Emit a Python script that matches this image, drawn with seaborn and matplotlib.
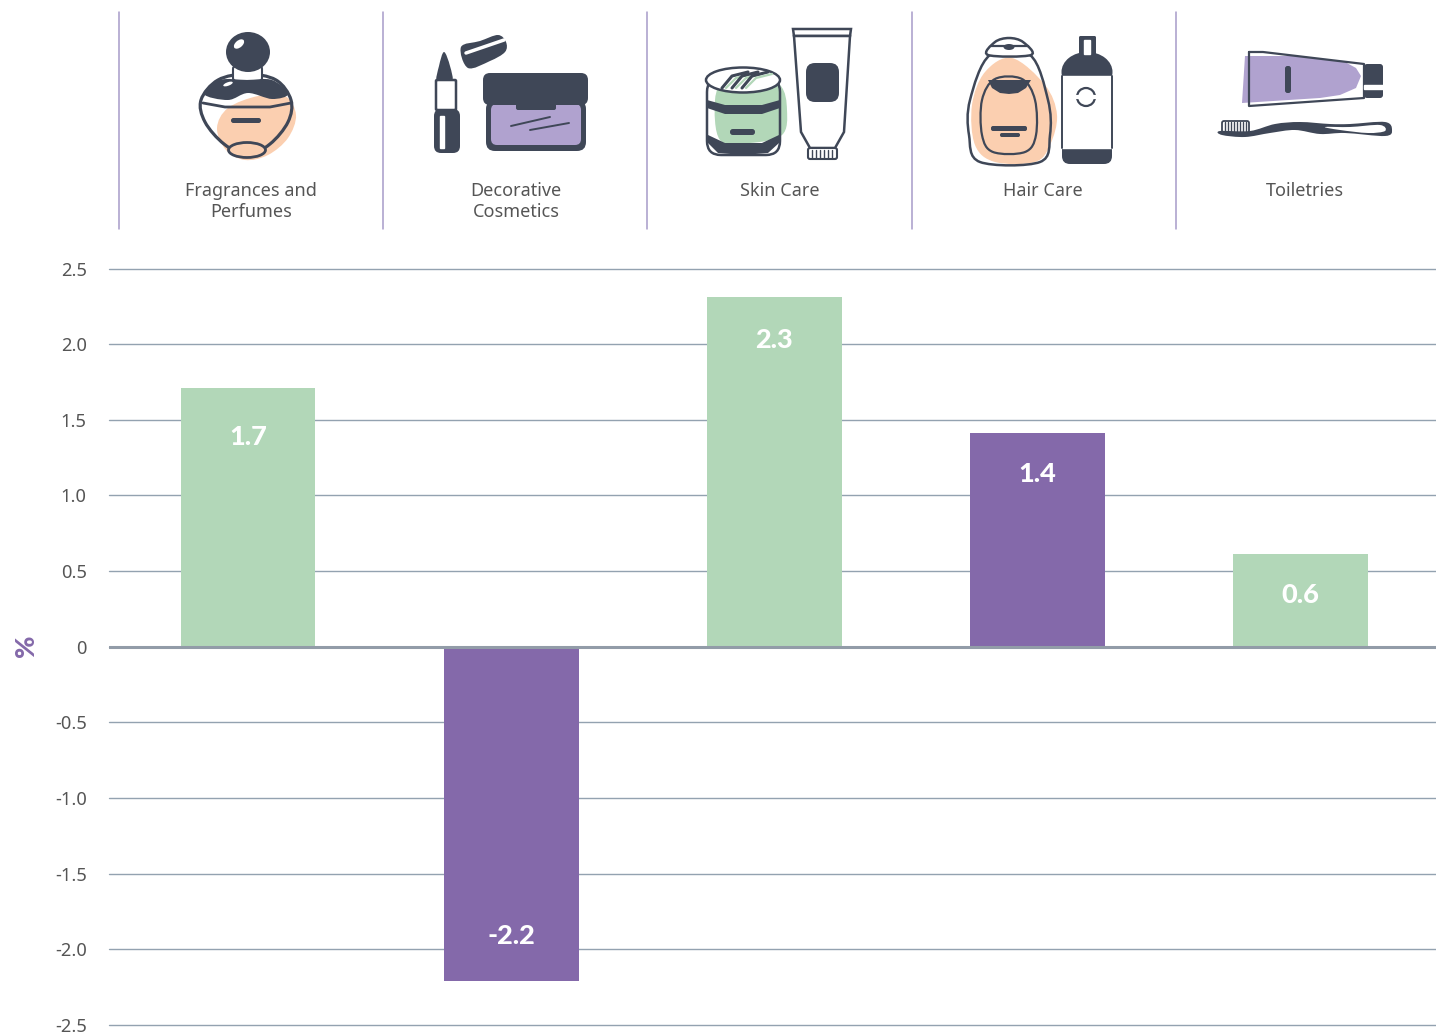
import matplotlib
matplotlib.use("Agg")
import matplotlib.pyplot as plt
import pandas as pd
import seaborn as sns
from matplotlib.patches import Ellipse, FancyBboxPatch, PathPatch, Polygon, Rectangle
from matplotlib.path import Path

# chart values
categories = ["Fragrances and\nPerfumes", "Decorative\nCosmetics", "Skin Care", "Hair Care", "Toiletries"]
values = [1.71, -2.21, 2.31, 1.41, 0.61]
groups = ["a", "b", "c", "d", "e"]
yticks = [-2.5, -2.0, -1.5, -1.0, -0.5, 0, 0.5, 1.0, 1.5, 2.0, 2.5]
ytick_labels = ["-2.5", "-2.0", "-1.5", "-1.0", "-0.5", "0", "0.5", "1.0", "1.5", "2.0", "2.5"]

GREEN = "#B2D7B8"
PURPLE = "#8469AA"
DARK = "#3F4757"
PEACH = "#FBCFB0"
LILAC = "#B0A2CF"
TEXT = "#555555"
WHITE = "white"

sns.set_theme(style="white")
plt.rcParams["font.family"] = ["Noto Sans", "DejaVu Sans"]

W, H = 1436, 1034
fig = plt.figure(figsize=(W / 100, H / 100), dpi=100)
ax = fig.add_axes([109 / W, 1 - 1025 / H, (W - 109) / W, (1025 - 268.5) / H])

df = pd.DataFrame({"category": categories, "value": values, "group": groups})
sns.barplot(data=df, x="category", y="value", hue="group",
            palette=[GREEN, PURPLE, GREEN, PURPLE, GREEN],
            width=0.512, saturation=1, legend=False, linewidth=0, ax=ax)

ax.set_xlim(-0.529, 4.516)
ax.set_ylim(-2.5, 2.5)
ax.set_yticks(yticks)
ax.set_yticklabels(ytick_labels, color=TEXT, fontsize=13.2)
ax.set_xticks([])
ax.set_xlabel("")
ax.set_ylabel("")
ax.tick_params(axis="y", length=0, pad=16)
ax.set_axisbelow(True)
ax.grid(axis="y", color="#93A2B0", lw=1)
for g in ax.get_ygridlines():
    g.set_clip_on(False)
ax.axhline(0, color="#929CA8", lw=2.2, zorder=5)
sns.despine(ax=ax, left=True, bottom=True, top=True, right=True)

# labels sit inside the bars
label_offsets = [-49, 45, -43, -41, -41]
for i, (v, off) in enumerate(zip(values, label_offsets)):
    ax.annotate(f"{v:.1f}", (i, v), xytext=(0, off), textcoords="offset pixels",
                ha="center", va="center", color="white", fontsize=19.5, family="Lato", fontweight="black", zorder=6)

fig.text(26 / W, 1 - 646 / H, "%", rotation=90, color=PURPLE, fontsize=19.5, family="Lato", fontweight="black",
         ha="center", va="center")

# header strip drawn in pixel coordinates
top = fig.add_axes([0, 0, 1, 1], facecolor="none")
top.set_xlim(0, W)
top.set_ylim(H, 0)
top.axis("off")


def blob(pts, fc="none", ec="none", lw=0, z=2):
    # closed smooth curve through the points
    n = len(pts)
    verts = [pts[0]]
    codes = [Path.MOVETO]
    for i in range(n):
        p0, p1, p2, p3 = pts[i - 1], pts[i], pts[(i + 1) % n], pts[(i + 2) % n]
        c1 = (p1[0] + (p2[0] - p0[0]) / 6, p1[1] + (p2[1] - p0[1]) / 6)
        c2 = (p2[0] - (p3[0] - p1[0]) / 6, p2[1] - (p3[1] - p1[1]) / 6)
        verts += [c1, c2, p2]
        codes += [Path.CURVE4] * 3
    top.add_patch(PathPatch(Path(verts, codes), fc=fc, ec=ec, lw=lw, zorder=z))


def ell(cx, cy, w, h, fc="none", ec="none", lw=0, z=2, angle=0):
    top.add_patch(Ellipse((cx, cy), w, h, angle=angle, fc=fc, ec=ec, lw=lw, zorder=z))


def box(x0, y0, x1, y1, r=3, fc=DARK, ec="none", lw=0, z=3):
    top.add_patch(FancyBboxPatch((x0 + r, y0 + r), x1 - x0 - 2 * r, y1 - y0 - 2 * r,
                                 boxstyle=f"round,pad={r}", fc=fc, ec=ec, lw=lw, zorder=z))


def poly(pts, fc=DARK, ec="none", lw=0, z=3):
    top.add_patch(Polygon(pts, closed=True, fc=fc, ec=ec, lw=lw, zorder=z))


def line(pts, lw=1.5, c=DARK, z=4):
    top.plot([p[0] for p in pts], [p[1] for p in pts], color=c, lw=lw, zorder=z, solid_capstyle="round")


for x in [119, 383, 647, 912, 1176]:
    top.plot([x, x], [12, 229], color="#A79BC9", lw=1.1, zorder=1)

header_x = [251, 516, 780, 1043, 1305]
for x, name in zip(header_x, categories):
    top.text(x, 182, name, ha="center", va="top", color=TEXT, fontsize=13, linespacing=1.2)

# perfume
blob([(258, 96), (285, 96), (296, 115), (288, 138), (268, 155), (245, 160), (226, 150), (217, 128), (228, 108)], fc=PEACH, z=2)
blob([(247, 74), (276, 80), (291, 100), (288, 122), (270, 144), (247, 155), (224, 144), (205, 122), (201, 100), (218, 80)],
     ec=DARK, lw=2.3, z=3)
box(233, 66, 262, 81, r=3, fc=WHITE, ec=DARK, lw=1.5, z=4)
blob([(247, 80), (272, 80), (288, 94), (272, 99), (248, 93), (228, 100), (204, 94), (220, 80)], fc=DARK, z=4)
ell(248, 52, 44, 40, fc=DARK, z=5)
ell(239, 44, 12, 7, fc=WHITE, z=6, angle=-40)
ell(228, 84, 10, 3.5, fc=WHITE, z=6, angle=-20)
line([(203, 103), (225, 107), (270, 107), (291, 103)], lw=2)
box(231, 118, 261, 123, r=2.4, z=5)
ell(247, 150, 37, 15, fc=PEACH, ec=DARK, lw=2, z=5)

# lipstick and cream
blob([(444, 52), (450, 66), (452, 82), (437, 82), (439, 66)], fc=DARK)
box(436, 80, 456, 110, r=1, fc=WHITE, ec=DARK, lw=1.8)
box(434, 109, 460, 153, r=7)
top.add_patch(Rectangle((440, 116), 4, 32, fc=WHITE, zorder=4))
blob([(461, 47), (480, 41), (498, 35), (506, 42), (505, 52), (490, 61), (468, 68)], fc=DARK)
line([(466, 53), (504, 40)], lw=2.5, c=WHITE)
box(486, 100, 586, 151, r=9, fc=DARK)
box(491, 104, 581, 145, r=6, fc=LILAC, z=4)
box(483, 73, 588, 105, r=7, z=5)
box(516, 100, 556, 110, r=2, z=5)
line([(511, 126), (550, 117)], lw=1.4, z=6)
line([(530, 130), (569, 123)], lw=1.4, z=6)

# jar and tube
blob([(750, 70), (780, 85), (787, 110), (782, 135), (750, 143), (720, 140), (715, 100), (725, 78)], fc=GREEN)
box(707, 78, 780, 155, r=14, ec=DARK, lw=1.8, fc="none", z=3)
ell(743, 80, 74, 25, fc=WHITE, ec=DARK, lw=1.8, z=4)
for dx in [0, 10, 20]:
    line([(722 + dx, 88), (732 + dx, 76), (748 + dx, 72)], lw=2.2, c=DARK, z=5)
    line([(726 + dx, 88), (736 + dx, 78), (752 + dx, 74)], lw=1.6, c=GREEN, z=5)
poly([(707, 100), (725, 105), (762, 105), (780, 100), (780, 108), (762, 114), (725, 114), (707, 108)], z=4)
poly([(708, 135), (725, 143), (762, 143), (779, 135), (779, 143), (768, 153), (743, 155), (718, 153), (708, 143)], z=4)
box(730, 129, 755, 135, r=2.8, z=5)
poly([(793, 29), (851, 29), (850, 36), (794, 36)], fc=WHITE, ec=DARK, lw=1.8)
poly([(794, 36), (850, 36), (844, 132), (835, 148), (810, 148), (801, 132)], fc=WHITE, ec=DARK, lw=1.8)
box(806, 63, 839, 102, r=9, z=4)
box(808, 148, 837, 159, r=2, fc=WHITE, ec=DARK, lw=1.5, z=4)
for x in range(812, 835, 4):
    line([(x, 150), (x, 158)], lw=1, z=5)

# shampoo bottles
blob([(1012, 58), (1045, 85), (1057, 115), (1050, 145), (1035, 162), (995, 162), (975, 145), (972, 105), (985, 72)], fc=PEACH)
blob([(990, 55), (1030, 55), (1048, 100), (1050, 135), (1040, 162), (980, 162), (969, 135), (970, 100)], ec=DARK, lw=1.8, z=3)
blob([(1009, 38), (1023, 42), (1031, 55), (988, 55), (995, 42)], fc=WHITE, ec=DARK, lw=1.8, z=4)
line([(991, 46), (1028, 46)], lw=1.6, z=5)
ell(1009, 47, 11, 6, fc=DARK, z=5)
blob([(995, 79), (1022, 79), (1035, 100), (1036, 135), (1025, 152), (993, 152), (982, 135), (982, 100)], ec=DARK, lw=1.6, z=4)
poly([(988, 80), (1031, 80), (1026, 88), (1018, 93), (1009, 94), (1000, 93), (992, 88)], z=5)
box(991, 126, 1027, 131, r=2, z=5)
box(1000, 133, 1020, 137, r=1.8, z=5)
box(1079, 36, 1096, 58, r=1.5)
top.add_patch(Rectangle((1084, 40), 6, 14, fc=WHITE, zorder=4))
ell(1087, 72, 51, 40, fc=DARK, z=3)
box(1062, 72, 1112, 164, r=8, z=3)
top.add_patch(Rectangle((1062, 76), 50, 72, fc=WHITE, zorder=4))
line([(1062, 76), (1062, 148)], lw=1.4, z=5)
line([(1112, 76), (1112, 148)], lw=1.4, z=5)
ell(1086, 97, 18, 18, ec=DARK, lw=1.6, z=5)
top.plot([1076, 1096], [97, 97], color=WHITE, lw=3, zorder=6)

# toothpaste and brush
poly([(1245, 56), (1300, 56), (1345, 62), (1356, 68), (1361, 76), (1356, 88), (1340, 95), (1320, 98), (1242, 103)], fc=LILAC, z=2)
line([(1249, 52), (1263, 52), (1364, 64), (1364, 98), (1249, 106), (1249, 52)], lw=1.6)
box(1364, 64, 1383, 98, r=3)
top.add_patch(Rectangle((1364, 85), 19, 4, fc=WHITE, zorder=4))
box(1285, 66, 1291, 93, r=2.5)
box(1222, 121, 1249, 133, r=2, fc=WHITE, ec=DARK, lw=1.3)
for x in range(1225, 1248, 3):
    line([(x, 122), (x, 132)], lw=1, z=5)
blob([(1220, 131), (1250, 131), (1275, 124), (1300, 122), (1330, 124), (1350, 124), (1385, 122), (1392, 130), (1385, 136),
      (1345, 133), (1320, 134), (1295, 130), (1270, 133), (1245, 137), (1222, 135)], fc=DARK, z=3)
blob([(1325, 127), (1350, 127), (1380, 125), (1385, 131), (1368, 133), (1340, 130)], fc=WHITE, z=4)

fig.savefig("out.png", dpi=100)
